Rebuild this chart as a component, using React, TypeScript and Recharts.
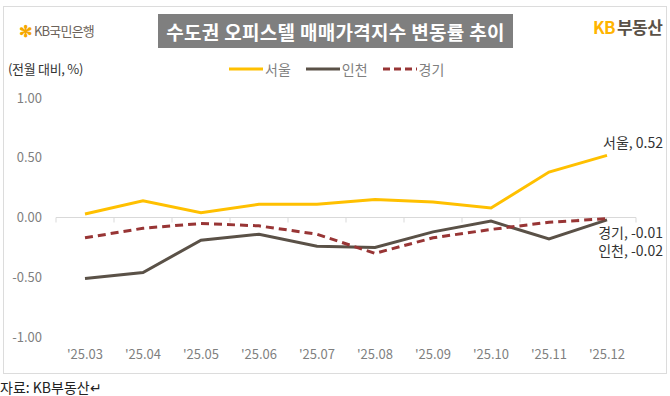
import { LineChart, Line, XAxis, YAxis, ReferenceLine, LabelList } from "recharts";

const months = ["'25.03", "'25.04", "'25.05", "'25.06", "'25.07", "'25.08", "'25.09", "'25.10", "'25.11", "'25.12"];
const seoul = [0.03, 0.14, 0.04, 0.11, 0.11, 0.15, 0.13, 0.08, 0.38, 0.52];
const incheon = [-0.51, -0.46, -0.19, -0.14, -0.24, -0.25, -0.12, -0.03, -0.18, -0.02];
const gyeonggi = [-0.17, -0.09, -0.05, -0.07, -0.14, -0.3, -0.17, -0.1, -0.04, -0.01];
const yTicks = [-1, -0.5, 0, 0.5, 1];

const data = months.map((m, i) => ({ month: m, 서울: seoul[i], 인천: incheon[i], 경기: gyeonggi[i] }));

const FONT = "'Noto Sans CJK KR', 'Noto Sans', sans-serif";
const C_SEOUL = "#FFC000";
const C_INCHEON = "#5A5147";
const C_GG = "#983535";

const legendItems = [
  { name: "서울", color: C_SEOUL, dash: undefined },
  { name: "인천", color: C_INCHEON, dash: undefined },
  { name: "경기", color: C_GG, dash: "7 4" },
];

function endLabel(name: string, dx: number, dy: number) {
  return (props: any) => {
    const { x, y, value, index } = props;
    if (index !== months.length - 1) return null;
    return (
      <text x={x + dx} y={y + dy} textAnchor="end" fontSize={14} fill="#333" fontFamily={FONT}>
        {name}, {Number(value).toFixed(2)}
      </text>
    );
  };
}

function ZeroAxis(props: any) {
  const { x1, x2, y1 } = props;
  const n = months.length;
  const step = (x2 - x1) / n;
  const ticks = [];
  for (let i = 0; i <= n; i++) {
    ticks.push(<line key={i} x1={x1 + i * step} x2={x1 + i * step} y1={y1} y2={y1 + 5} stroke="#d9d9d9" />);
  }
  return (
    <g>
      <line x1={x1} x2={x2} y1={y1} y2={y1} stroke="#d9d9d9" />
      {ticks}
    </g>
  );
}

export default function App() {
  return (
    <div style={{ position: "relative", width: 670, height: 396, background: "#fff", fontFamily: FONT }}>
      <style>{`body{margin:0}`}</style>
      <div style={{ position: "absolute", left: 3, top: 6, width: 662, height: 366, border: "1px solid #dcdcdc" }} />
      <div style={{ position: "absolute", left: 19, top: 18, fontSize: 13, color: "#6b6259", display: "flex", alignItems: "center" }}>
        <span style={{ color: "#F5A800", fontSize: 16, fontWeight: 700, marginRight: 2 }}>✻</span>
        <span style={{ letterSpacing: -0.8 }}>KB국민은행</span>
      </div>
      <div style={{ position: "absolute", left: 158, top: 14, width: 355, height: 34, background: "#7f7f7f", color: "#fff", fontSize: 19, fontWeight: 700, display: "flex", alignItems: "center", justifyContent: "center", letterSpacing: 0.3 }}>
        수도권 오피스텔 매매가격지수 변동률 추이
      </div>
      <div style={{ position: "absolute", left: 593, top: 14, fontSize: 17, fontWeight: 700, letterSpacing: -0.6 }}>
        <span style={{ color: "#FFB400" }}>KB</span>
        <span style={{ color: "#5A5147", marginLeft: 2 }}>부동산</span>
      </div>
      <div style={{ position: "absolute", left: 8, top: 59, fontSize: 13, color: "#333", letterSpacing: -0.3 }}>(전월 대비, %)</div>
      <div style={{ position: "absolute", left: 229, top: 59, display: "flex", fontSize: 14, color: "#7f7f7f" }}>
        {legendItems.map((it) => (
          <div key={it.name} style={{ display: "flex", alignItems: "center", marginRight: 15 }}>
            <svg width={34} height={10}>
              <line x1={0} x2={34} y1={5} y2={5} stroke={it.color} strokeWidth={3} strokeDasharray={it.dash} />
            </svg>
            <span style={{ marginLeft: 2 }}>{it.name}</span>
          </div>
        ))}
      </div>
      <div style={{ position: "absolute", left: 0, top: 377, fontSize: 14, color: "#222" }}>자료: KB부동산↵</div>
      <div style={{ position: "absolute", left: 0, top: 0 }}>
        <LineChart width={670} height={396} data={data} margin={{ top: 98, right: 34, bottom: 29, left: 0 }}>
          <XAxis dataKey="month" axisLine={false} tickLine={false} tickSize={0} tickMargin={13} interval={0} height={30}
            padding={{ left: 29, right: 29 }} tick={{ fontSize: 13, fill: "#7f7f7f", fontFamily: FONT }} />
          <YAxis domain={[-1, 1]} ticks={yTicks} axisLine={false} tickLine={false} width={56} tickSize={0} tickMargin={14}
            tickFormatter={(v: number) => v.toFixed(2)} tick={{ fontSize: 13, fill: "#7f7f7f", fontFamily: FONT }} />
          <ReferenceLine y={0} shape={ZeroAxis} />
          <Line dataKey="서울" stroke={C_SEOUL} strokeWidth={3} dot={false} isAnimationActive={false}>
            <LabelList dataKey="서울" content={endLabel("서울", 56, -7)} />
          </Line>
          <Line dataKey="인천" stroke={C_INCHEON} strokeWidth={3} dot={false} isAnimationActive={false}>
            <LabelList dataKey="인천" content={endLabel("인천", 56, 36)} />
          </Line>
          <Line dataKey="경기" stroke={C_GG} strokeWidth={3} strokeDasharray="8 5" dot={false} isAnimationActive={false}>
            <LabelList dataKey="경기" content={endLabel("경기", 56, 19)} />
          </Line>
        </LineChart>
      </div>
    </div>
  );
}
